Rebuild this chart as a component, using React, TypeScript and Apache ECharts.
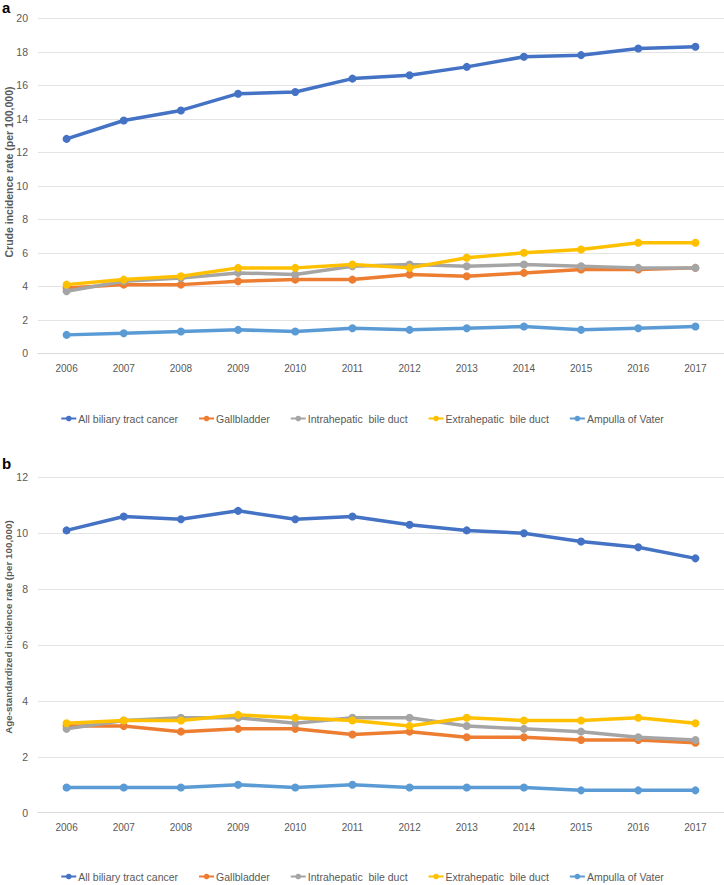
import React, { useEffect, useRef } from "react";
import * as echarts from "echarts";

const years = ["2006", "2007", "2008", "2009", "2010", "2011", "2012", "2013", "2014", "2015", "2016", "2017"];
const seriesNames = ["All biliary tract cancer", "Gallbladder", "Intrahepatic  bile duct", "Extrahepatic  bile duct", "Ampulla of Vater"];
const colors = ["#4472C4", "#ED7D31", "#A5A5A5", "#FFC000", "#5B9BD5"];

// Panel a: crude incidence rate
const crudeAll = [12.8, 13.9, 14.5, 15.5, 15.6, 16.4, 16.6, 17.1, 17.7, 17.8, 18.2, 18.3];
const crudeGallbladder = [3.9, 4.1, 4.1, 4.3, 4.4, 4.4, 4.7, 4.6, 4.8, 5.0, 5.0, 5.1];
const crudeIntrahepatic = [3.7, 4.3, 4.5, 4.8, 4.7, 5.2, 5.3, 5.2, 5.3, 5.2, 5.1, 5.1];
const crudeExtrahepatic = [4.1, 4.4, 4.6, 5.1, 5.1, 5.3, 5.1, 5.7, 6.0, 6.2, 6.6, 6.6];
const crudeAmpulla = [1.1, 1.2, 1.3, 1.4, 1.3, 1.5, 1.4, 1.5, 1.6, 1.4, 1.5, 1.6];

// Panel b: age-standardized incidence rate
const asrAll = [10.1, 10.6, 10.5, 10.8, 10.5, 10.6, 10.3, 10.1, 10.0, 9.7, 9.5, 9.1];
const asrGallbladder = [3.1, 3.1, 2.9, 3.0, 3.0, 2.8, 2.9, 2.7, 2.7, 2.6, 2.6, 2.5];
const asrIntrahepatic = [3.0, 3.3, 3.4, 3.4, 3.2, 3.4, 3.4, 3.1, 3.0, 2.9, 2.7, 2.6];
const asrExtrahepatic = [3.2, 3.3, 3.3, 3.5, 3.4, 3.3, 3.1, 3.4, 3.3, 3.3, 3.4, 3.2];
const asrAmpulla = [0.9, 0.9, 0.9, 1.0, 0.9, 1.0, 0.9, 0.9, 0.9, 0.8, 0.8, 0.8];

const crudeSets = [crudeAll, crudeGallbladder, crudeIntrahepatic, crudeExtrahepatic, crudeAmpulla];
const asrSets = [asrAll, asrGallbladder, asrIntrahepatic, asrExtrahepatic, asrAmpulla];

const yTitleA = "Crude incidence rate (per 100,000)";
const yTitleB = "Age-standardized incidence rate (per 100,000)";

const sans = "'Liberation Sans', Arial, sans-serif";
const textGray = "#595959";

export default function App() {
  const ref = useRef<HTMLDivElement>(null);
  useEffect(() => {
    if (!ref.current) return;
    const chart = echarts.init(ref.current, undefined, { renderer: "svg" });

    const makeX = (gridIndex: number) => ({
      type: "category",
      gridIndex,
      data: years,
      boundaryGap: true,
      axisLine: { show: true, lineStyle: { color: "#D9D9D9", width: 1 } },
      axisTick: { show: false },
      axisLabel: { color: textGray, fontFamily: sans, fontSize: 10, margin: 10 },
    });
    const makeY = (gridIndex: number, max: number) => ({
      type: "value",
      gridIndex,
      min: 0,
      max,
      interval: 2,
      axisLine: { show: false },
      axisTick: { show: false },
      splitLine: { lineStyle: { color: "#E3E3E3", width: 1 } },
      axisLabel: { color: textGray, fontFamily: sans, fontSize: 10.5, margin: 10 },
    });

    const makeSeries = (sets: number[][], idx: number) =>
      sets.map((d, i) => ({
        name: seriesNames[i],
        type: "line",
        xAxisIndex: idx,
        yAxisIndex: idx,
        data: d,
        symbol: "circle",
        symbolSize: 8,
        lineStyle: { width: 3.5, color: colors[i] },
        itemStyle: { color: colors[i] },
        z: 2 + i,
      }));

    const legendBase = {
      data: seriesNames,
      left: "center",
      padding: 0,
      itemWidth: 15,
      itemHeight: 7,
      itemGap: 20,
      textStyle: { color: textGray, fontFamily: sans, fontSize: 10.5, padding: [0, 0, 0, -3] },
    };

    chart.setOption({
      animation: false,
      backgroundColor: "#ffffff",
      color: colors,
      grid: [
        { left: 38, right: 0, top: 18.3, height: 335 },
        { left: 38, right: 0, top: 477.3, height: 335.4 },
      ],
      xAxis: [makeX(0), makeX(1)],
      yAxis: [makeY(0, 20), makeY(1, 12)],
      legend: [
        { ...legendBase, top: 413 },
        { ...legendBase, top: 871 },
      ],
      series: [...makeSeries(crudeSets, 0), ...makeSeries(asrSets, 1)],
      graphic: [
        {
          type: "text",
          left: 2,
          top: 0,
          style: { text: "a", fill: "#000", font: "bold 15px 'Liberation Sans', Arial, sans-serif" },
        },
        {
          type: "text",
          left: 2,
          top: 456,
          style: { text: "b", fill: "#000", font: "bold 15px 'Liberation Sans', Arial, sans-serif" },
        },
        {
          type: "text",
          x: 8.5,
          y: 172,
          rotation: Math.PI / 2,
          style: {
            text: yTitleA,
            fill: textGray,
            font: "bold 10.5px 'Liberation Sans', Arial, sans-serif",
            align: "center",
            verticalAlign: "middle",
          },
        },
        {
          type: "text",
          x: 8.5,
          y: 627,
          rotation: Math.PI / 2,
          style: {
            text: yTitleB,
            fill: textGray,
            font: "bold 9.8px 'Liberation Sans', Arial, sans-serif",
            align: "center",
            verticalAlign: "middle",
          },
        },
      ],
    });
    return () => chart.dispose();
  }, []);
  return <div ref={ref} style={{ position: "absolute", left: 0, top: 0, width: 724, height: 885 }} />;
}
